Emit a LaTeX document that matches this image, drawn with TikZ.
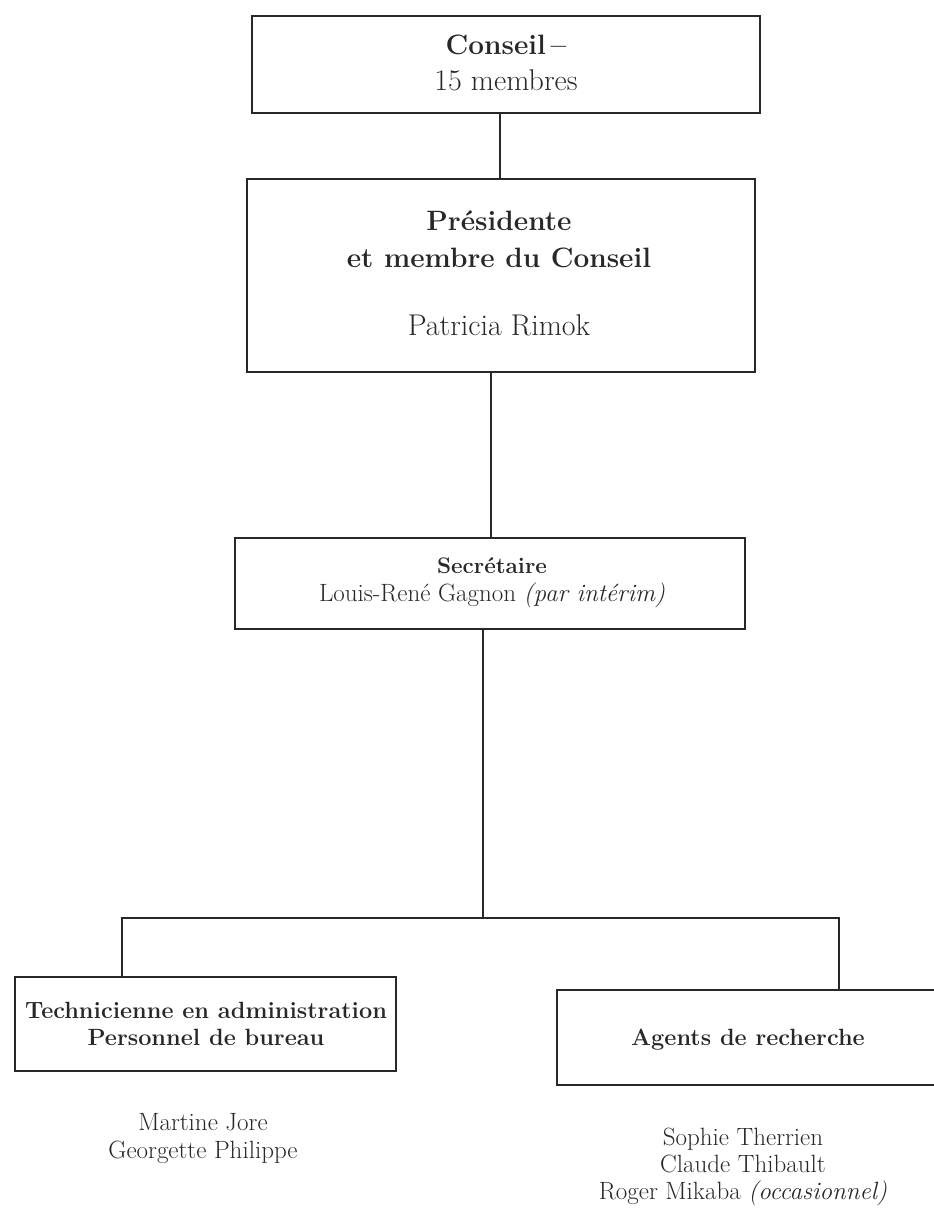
\documentclass[tikz,border=0pt]{standalone}
\usepackage{fontspec}
\definecolor{ink}{RGB}{40,40,40}
\tikzset{
  box/.style={draw=ink, line width=1.4pt, inner sep=0pt, fill=none},
  link/.style={draw=ink, line width=1.4pt},
  txt/.style={anchor=base, inner sep=0pt, text=ink},
  big/.style={font=\fontsize{30}{36}\selectfont},
  bigb/.style={font=\fontsize{28}{34}\selectfont\bfseries},
  mid/.style={font=\fontsize{25}{30}\selectfont},
  midb/.style={font=\fontsize{23.5}{28}\selectfont\bfseries}
}
\begin{document}
\begin{tikzpicture}[x=1pt,y=-1pt]
\useasboundingbox (0,0) rectangle (934,1213);
% boxes
\node[box, minimum width=508pt, minimum height=97pt]  (b1) at (506,64.5) {};
\node[box, minimum width=508pt, minimum height=193pt] (b2) at (501,275.5) {};
\node[box, minimum width=510pt, minimum height=91pt]  (b3) at (490,583.5) {};
\node[box, minimum width=381pt, minimum height=94pt]  (b4) at (205.5,1024) {};
\node[box, minimum width=388pt, minimum height=95pt]  (b5) at (751,1037.5) {};
% texts
\node[txt, bigb] (t1a) at (506,54) {Conseil\,–};
\node[txt, big]  (t1b) at (506,90) {15 membres};
\node[txt, bigb] (t2a) at (499,230) {Présidente};
\node[txt, bigb] (t2b) at (499,267) {et membre du Conseil};
\node[txt, big]  (t2c) at (499,335) {Patricia Rimok};
\node[txt, font=\fontsize{22.5}{27}\selectfont\bfseries] (t3a) at (492,573) {Secrétaire};
\node[txt, mid]  (t3b) at (492,601) {Louis-René Gagnon \textit{(par intérim)}};
\node[txt, midb] (t4a) at (206,1018) {Technicienne en administration};
\node[txt, midb] (t4b) at (206,1045) {Personnel de bureau};
\node[txt, midb] (t5a) at (748,1045) {Agents de recherche};
\node[txt, mid]  (n1) at (203,1130) {Martine Jore};
\node[txt, mid]  (n2) at (203,1158) {Georgette Philippe};
\node[txt, mid]  (n3) at (743,1145) {Sophie Therrien};
\node[txt, mid]  (n4) at (743,1172) {Claude Thibault};
\node[txt, mid]  (n5) at (743,1199) {Roger Mikaba \textit{(occasionnel)}};
% connector coordinates
\coordinate (x1) at (500,0);
\coordinate (x2) at (491,0);
\coordinate (busM) at (483,918);
\coordinate (busL) at (122,918);
\coordinate (busR) at (839,918);
% connectors
\draw[link] (b1.south -| x1) -- (b2.north -| x1);
\draw[link] (b2.south -| x2) -- (b3.north -| x2);
\draw[link] (b3.south -| busM) -- (busM);
\draw[link] (busL |- b4.north) -- (busL) -- (busR) -- (busR |- b5.north);
\end{tikzpicture}
\end{document}
